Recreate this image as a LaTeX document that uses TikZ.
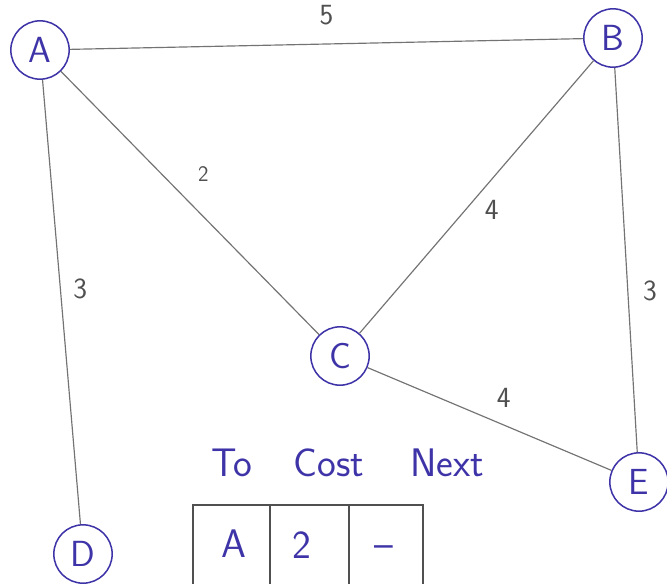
\documentclass[tikz,border=0pt]{standalone}
\usetikzlibrary{positioning}
\definecolor{inkblue}{RGB}{62,52,168}
\definecolor{pencil}{RGB}{115,115,115}
\definecolor{lblgray}{RGB}{80,80,80}

\begin{document}
\begin{tikzpicture}[
    x=0.03cm, y=-0.03cm,
    router/.style={circle, draw=inkblue, line width=1.3pt, minimum size=1.75cm, inner sep=0pt, text=inkblue, font=\sffamily\fontsize{31}{35}\selectfont},
    link/.style={draw=pencil, line width=1pt},
    cost/.style={text=lblgray, font=\sffamily\fontsize{25}{29}\selectfont},
    colhead/.style={text=inkblue, font=\sffamily\fontsize{34}{38}\selectfont},
    entry/.style={text=inkblue, font=\sffamily\fontsize{34}{38}\selectfont},
    tablerule/.style={draw=lblgray, line width=1pt}
]
\useasboundingbox (0,0) rectangle (667,584);

% routers
\node (A) [router] at (40,50) {A};
\node (B) [router] at (613,38) {B};
\node (C) [router] at (340,356) {C};
\node (D) [router] at (83,554) {D};
\node (E) [router] at (639,482) {E};

% links with costs
\draw[link] (A) -- node[cost, pos=0.5, yshift=25pt] {5} (B);
\draw[link] (A) -- node[cost, pos=0.47, xshift=18pt, yshift=18pt, font=\sffamily\fontsize{19}{22}\selectfont] {2} (C);
\draw[link] (B) -- node[cost, pos=0.5, xshift=13pt, yshift=-11pt] {4} (C);
\draw[link] (A) -- node[cost, pos=0.47, xshift=17pt] {3} (D);
\draw[link] (B) -- node[cost, pos=0.58, xshift=19pt] {3} (E);
\draw[link] (C) -- node[cost, pos=0.52, xshift=8pt, yshift=20pt] {4} (E);

% routing table of C
\node (to) [colhead] at (232,463) {To};
\node (cst) [colhead] at (329,463) {Cost};
\node (nxt) [colhead] at (447,463) {Next};
\draw[tablerule] (193,584) |- (423,505) -- (423,584);
\draw[tablerule] (270,505) -- (270,584);
\draw[tablerule] (349,505) -- (349,584);
\node (ra) [entry] at (234,544) {A};
\node (rc) [entry] at (302,545) {2};
\node (rn) [entry] at (384,552) {--};

\end{tikzpicture}
\end{document}
